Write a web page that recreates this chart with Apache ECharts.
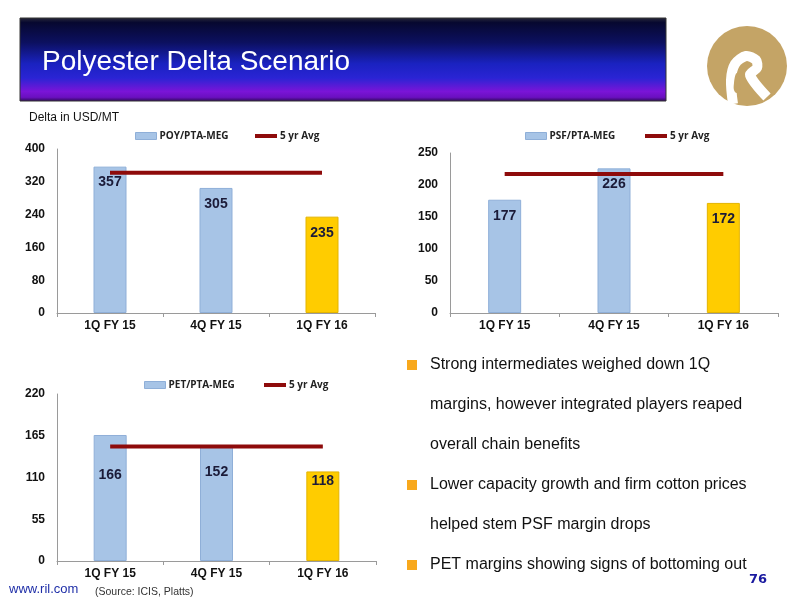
<!DOCTYPE html>
<html>
<head>
<meta charset="utf-8">
<script src="https://cdn.jsdelivr.net/npm/echarts@6/dist/echarts.min.js"></script>
<style>
  html, body { margin: 0; padding: 0; background: #fff; }
  #slide { width: 800px; height: 600px; }
</style>
</head>
<body>
<div id="slide"></div>
<script>
// Datos
const trimestres = ['1Q FY 15', '4Q FY 15', '1Q FY 16'];

const poyValores = [357, 305, 235];
const poyPromedio = 342;
const psfValores = [177, 226, 172];
const psfPromedio = 217;
const petValores = [166, 152, 118];
const petPromedio = 151;

const poyTicks = { max: 400, interval: 80 };
const psfTicks = { max: 250, interval: 50 };
const petTicks = { max: 220, interval: 55 };

const viñetas = [
    ['Strong intermediates weighed down 1Q', 'margins, however integrated players reaped', 'overall chain benefits'],
    ['Lower capacity growth and firm cotton prices', 'helped stem PSF margin drops'],
    ['PET margins showing signs of bottoming out']
];

const azul = '#A7C4E6';
const azulBorde = '#8FAFD8';
const amarillo = '#FFCC00';
const amarilloBorde = '#E3B400';
const rojo = '#8E0B0B';
const dorado = '#C4A466';
const fuente = '"Liberation Sans", Arial, sans-serif';

const estiloAzul = { color: azul, borderColor: azulBorde, borderWidth: 1 };
const estiloAmarillo = { color: amarillo, borderColor: amarilloBorde, borderWidth: 1 };

const slide = echarts.init(document.getElementById('slide'));

// Distancia de la etiqueta bajo el tope de la barra
const gapPet = [33, 20, 3];

function serieBarras(nombre, valores, eje, gaps) {
    return {
        name: nombre,
        type: 'bar',
        xAxisIndex: eje,
        yAxisIndex: eje,
        barWidth: 33,
        data: valores.map((v, i) => ({
            value: v,
            itemStyle: i === 2 ? estiloAmarillo : estiloAzul,
            label: { distance: gaps ? gaps[i] : 9 }
        })),
        itemStyle: estiloAzul,
        label: {
            show: true,
            position: 'insideTop',
            color: '#1b1b38',
            fontWeight: 'bold',
            fontSize: 14,
            fontFamily: fuente
        },
        z: 2
    };
}

function serieLinea(promedio, eje) {
    return {
        name: '5 yr Avg',
        type: 'line',
        xAxisIndex: eje,
        yAxisIndex: eje,
        data: trimestres.map(() => promedio),
        symbol: 'none',
        lineStyle: { color: rojo, width: 4 },
        itemStyle: { color: rojo },
        z: 3
    };
}

function ejeX(grid) {
    return {
        type: 'category',
        gridIndex: grid,
        data: trimestres,
        axisLine: { lineStyle: { color: '#9a9a9a' } },
        axisTick: { show: true, length: 4, lineStyle: { color: '#9a9a9a' } },
        axisLabel: { color: '#111', fontWeight: 'bold', fontSize: 12, fontFamily: fuente, margin: 7 }
    };
}

function ejeY(grid, ticks) {
    return {
        type: 'value',
        gridIndex: grid,
        min: 0,
        max: ticks.max,
        interval: ticks.interval,
        splitLine: { show: false },
        axisLine: { show: true, lineStyle: { color: '#9a9a9a' } },
        axisTick: { show: false },
        axisLabel: { color: '#111', fontWeight: 'bold', fontSize: 12, fontFamily: fuente, margin: 12 }
    };
}

const textoLeyenda = { color: '#222', fontWeight: 'bold', fontSize: 10, fontFamily: '"Open Sans", sans-serif', padding: [0, 0, 0, -2] };

// Dos leyendas por grafico: la de barras y la de la linea
function leyendas(nombre, left, top) {
    return [
        {
            left: left,
            top: top,
            itemWidth: 21,
            itemHeight: 7,
            textStyle: textoLeyenda,
            data: [{ name: nombre, icon: 'rect', itemStyle: estiloAzul }]
        },
        {
            left: left + 120,
            top: top,
            itemWidth: 22,
            itemHeight: 4,
            textStyle: textoLeyenda,
            data: [{ name: '5 yr Avg', icon: 'rect', itemStyle: { color: rojo } }]
        }
    ];
}

// Textos y adornos de la diapositiva
const graficos = [
    {
        type: 'rect',
        shape: { x: 20, y: 18, width: 646, height: 83 },
        style: {
            fill: new echarts.graphic.LinearGradient(0, 0, 0, 1, [
                { offset: 0, color: '#2a2a3a' },
                { offset: 0.06, color: '#070830' },
                { offset: 0.3, color: '#0c1060' },
                { offset: 0.55, color: '#1a22c0' },
                { offset: 0.72, color: '#2a24d4' },
                { offset: 0.88, color: '#7a14d8' },
                { offset: 0.95, color: '#6a10c0' },
                { offset: 1, color: '#2a0a50' }
            ]),
            stroke: '#333',
            lineWidth: 1
        }
    },
    {
        type: 'text',
        x: 42,
        y: 62,
        style: {
            text: 'Polyester Delta Scenario',
            fill: '#fff',
            fontSize: 28,
            fontFamily: fuente,
            verticalAlign: 'middle',
            shadowColor: 'rgba(0,0,0,0.6)',
            shadowBlur: 2,
            shadowOffsetX: 1,
            shadowOffsetY: 1
        }
    },
    // logo
    {
        type: 'circle',
        shape: { cx: 747, cy: 66, r: 40 },
        style: { fill: dorado }
    },
    {
        type: 'polyline',
        shape: {
            points: [[733, 104], [731, 80], [735, 64], [746, 56], [756, 60], [757, 68], [750, 75], [767, 97]],
            smooth: 0.3
        },
        style: { fill: null, stroke: '#fff', lineWidth: 10, lineJoin: 'round' }
    },
    {
        type: 'polygon',
        shape: {
            points: [[737, 73], [740, 83], [739, 92], [735, 92], [734, 83]],
            smooth: 0.5
        },
        style: { fill: dorado }
    },
    {
        type: 'text',
        x: 29,
        y: 118,
        style: { text: 'Delta in USD/MT', fill: '#111', fontSize: 12, fontFamily: fuente, verticalAlign: 'middle' }
    },
    {
        type: 'text',
        x: 9,
        y: 589,
        style: { text: 'www.ril.com', fill: '#1f2fa8', fontSize: 13, fontFamily: fuente, verticalAlign: 'middle' }
    },
    {
        type: 'text',
        x: 95,
        y: 592,
        style: { text: '(Source: ICIS, Platts)', fill: '#333', fontSize: 10.5, fontFamily: fuente, verticalAlign: 'middle' }
    },
    {
        type: 'text',
        x: 767,
        y: 580,
        style: { text: '76', fill: '#1a1aa0', fontSize: 13, fontWeight: 'bold', fontFamily: '"DejaVu Sans", sans-serif', align: 'right', verticalAlign: 'middle' }
    }
];

let linea = 0;
viñetas.forEach(parrafo => {
    graficos.push({
        type: 'rect',
        shape: { x: 407, y: 365 + linea * 40 - 5, width: 10, height: 10 },
        style: { fill: '#F8A81C' }
    });
    parrafo.forEach(texto => {
        graficos.push({
            type: 'text',
            x: 430,
            y: 365 + linea * 40,
            style: { text: texto, fill: '#111', fontSize: 16, fontFamily: fuente, verticalAlign: 'middle' }
        });
        linea++;
    });
});

const opcion = {
    animation: false,
    backgroundColor: '#fff',
    grid: [
        { left: 57, width: 318, top: 149, height: 164 },
        { left: 450, width: 328, top: 153, height: 160 },
        { left: 57, width: 319, top: 394, height: 167 }
    ],
    xAxis: [ejeX(0), ejeX(1), ejeX(2)],
    yAxis: [ejeY(0, poyTicks), ejeY(1, psfTicks), ejeY(2, petTicks)],
    legend: [
        ...leyendas('POY/PTA-MEG', 130, 126),
        ...leyendas('PSF/PTA-MEG', 520, 126),
        ...leyendas('PET/PTA-MEG', 139, 375)
    ],
    series: [
        serieBarras('POY/PTA-MEG', poyValores, 0),
        serieLinea(poyPromedio, 0),
        serieBarras('PSF/PTA-MEG', psfValores, 1),
        serieLinea(psfPromedio, 1),
        serieBarras('PET/PTA-MEG', petValores, 2, gapPet),
        serieLinea(petPromedio, 2)
    ],
    graphic: graficos
};

slide.setOption(opcion);
</script>
</body>
</html>
